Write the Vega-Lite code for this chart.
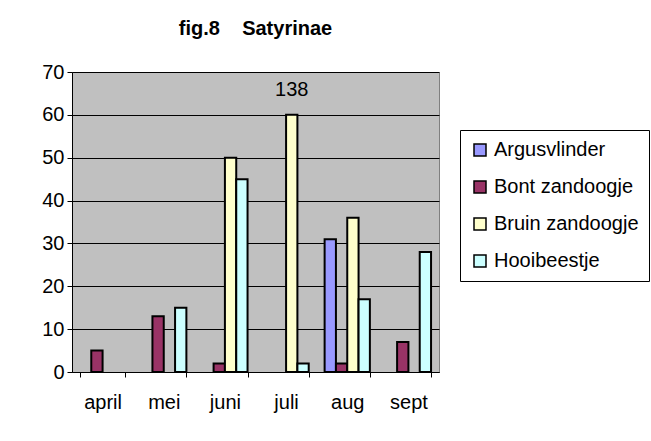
{
  "$schema": "https://vega.github.io/schema/vega-lite/v6.json",
  "width": 367,
  "height": 300,
  "autosize": {"type": "none"},
  "padding": {"left": 72, "top": 72, "right": 212, "bottom": 69},
  "background": "white",
  "title": {
    "text": "fig.8\u00a0\u00a0\u00a0\u00a0Satyrinae",
    "font": "Liberation Sans",
    "fontSize": 20,
    "fontWeight": "bold",
    "color": "black",
    "anchor": "middle",
    "offset": 23
  },
  "data": {
    "values": [
      {"month": "april", "series": "Bont zandoogje", "value": 5},
      {"month": "mei", "series": "Bont zandoogje", "value": 13},
      {"month": "mei", "series": "Hooibeestje", "value": 15},
      {"month": "juni", "series": "Bont zandoogje", "value": 2},
      {"month": "juni", "series": "Bruin zandoogje", "value": 50},
      {"month": "juni", "series": "Hooibeestje", "value": 45},
      {"month": "juli", "series": "Bruin zandoogje", "value": 60, "label": "138"},
      {"month": "juli", "series": "Hooibeestje", "value": 2},
      {"month": "aug", "series": "Argusvlinder", "value": 31},
      {"month": "aug", "series": "Bont zandoogje", "value": 2},
      {"month": "aug", "series": "Bruin zandoogje", "value": 36},
      {"month": "aug", "series": "Hooibeestje", "value": 17},
      {"month": "sept", "series": "Bont zandoogje", "value": 7},
      {"month": "sept", "series": "Hooibeestje", "value": 28}
    ]
  },
  "encoding": {
    "x": {
      "field": "month",
      "type": "nominal",
      "sort": ["april", "mei", "juni", "juli", "aug", "sept"],
      "scale": {"domain": ["april", "mei", "juni", "juli", "aug", "sept"], "paddingInner": 0.26, "paddingOuter": 0.13},
      "axis": {
        "title": null,
        "labelAngle": 0,
        "tickBand": "extent",
        "tickSize": 5,
        "tickColor": "black",
        "domainColor": "black",
        "labelFont": "Liberation Sans",
        "labelFontSize": 20,
        "labelColor": "black",
        "labelPadding": 15,
        "grid": false
      }
    },
    "xOffset": {
      "field": "series",
      "type": "nominal",
      "scale": {"domain": ["Argusvlinder", "Bont zandoogje", "Bruin zandoogje", "Hooibeestje"], "paddingInner": 0, "paddingOuter": 0}
    },
    "y": {
      "field": "value",
      "type": "quantitative",
      "scale": {"domain": [0, 70], "nice": false},
      "axis": {
        "title": null,
        "values": [0, 10, 20, 30, 40, 50, 60, 70],
        "tickSize": 5,
        "tickColor": "black",
        "domainColor": "black",
        "gridColor": "black",
        "gridOpacity": 1,
        "gridWidth": 1,
        "labelFont": "Liberation Sans",
        "labelFontSize": 20,
        "labelColor": "black",
        "labelPadding": 3
      }
    }
  },
  "layer": [
    {
      "mark": {"type": "bar", "stroke": "black", "strokeWidth": 2},
      "encoding": {
        "color": {
          "field": "series",
          "type": "nominal",
          "scale": {
            "domain": ["Argusvlinder", "Bont zandoogje", "Bruin zandoogje", "Hooibeestje"],
            "range": ["#9999FF", "#993366", "#FFFFCC", "#CCFFFF"]
          },
          "legend": {
            "title": null,
            "orient": "none",
            "legendX": 388,
            "legendY": 58,
            "symbolType": "square",
            "symbolSize": 144,
            "symbolStrokeColor": "black",
            "symbolStrokeWidth": 1.5,
            "labelFont": "Liberation Sans",
            "labelFontSize": 20,
            "labelColor": "black",
            "labelOffset": 4,
            "rowPadding": 17,
            "strokeColor": "black",
            "padding": 10,
            "fillColor": "white"
          }
        }
      }
    },
    {
      "transform": [{"filter": "isValid(datum.label)"}],
      "mark": {"type": "text", "baseline": "bottom", "dy": -15, "font": "Liberation Sans", "fontSize": 20, "color": "black"},
      "encoding": {
        "text": {"field": "label"}
      }
    }
  ],
  "config": {
    "view": {"fill": "#C0C0C0", "stroke": "#808080"}
  }
}
